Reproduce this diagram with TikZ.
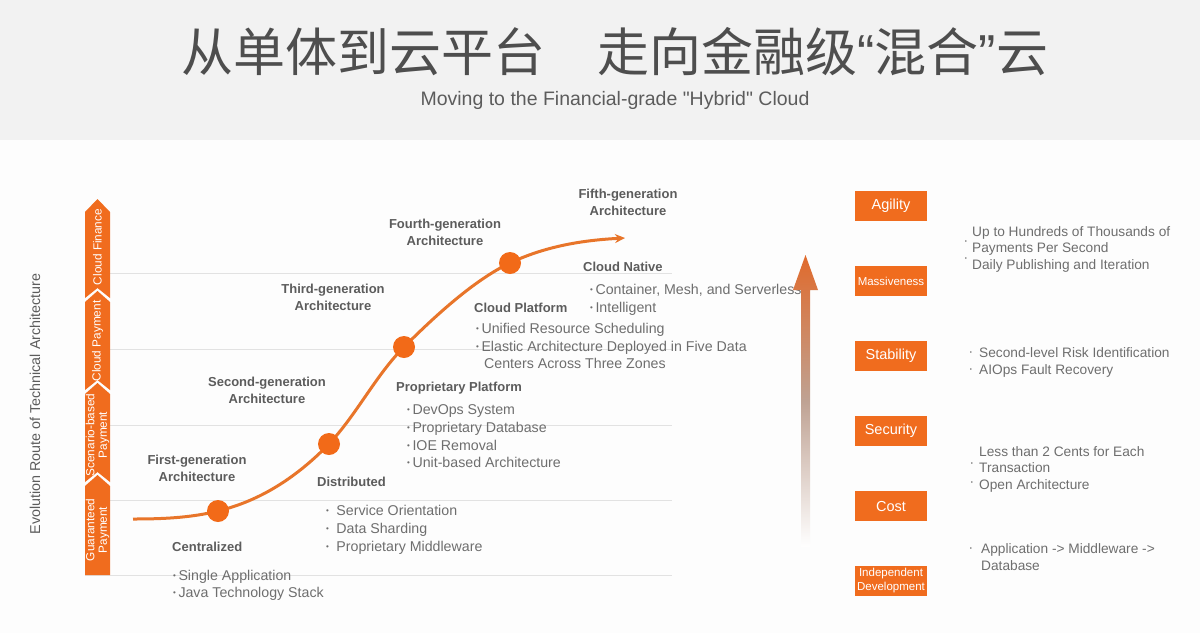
\documentclass[tikz,border=0pt]{standalone}
\usepackage{fontspec}
\setmainfont{Liberation Sans}
\newfontfamily\cjk{Noto Sans CJK SC}
\newfontfamily\latinq{Liberation Sans}
\usetikzlibrary{arrows.meta}
\definecolor{org}{HTML}{F06C1E}
\definecolor{curveorg}{HTML}{E8752A}
\definecolor{dotorg}{HTML}{F26A18}
\definecolor{txtd}{HTML}{5C5C5C}
\definecolor{txtl}{HTML}{6E6E6E}
\definecolor{gridc}{HTML}{E2E2E2}
\definecolor{headbg}{HTML}{F2F2F2}
\definecolor{bodybg}{HTML}{FDFDFD}
\definecolor{titlec}{HTML}{4E4E4E}
\definecolor{arrtop}{HTML}{E06A2C}
\definecolor{arrmid}{HTML}{BFA293}
\newcommand\bu{\raisebox{0.12em}{\fontsize{8}{8}\selectfont•}\hspace{2.5pt}}
\tikzset{
  gen/.style={font=\fontsize{13}{17}\selectfont\bfseries, text=txtd, align=center, anchor=base, inner sep=0pt},
  stage/.style={font=\fontsize{13}{17}\selectfont\bfseries, text=txtd, anchor=base west, inner sep=0pt},
  item/.style={font=\fontsize{14.2}{17.5}\selectfont, text=txtl, anchor=base west, inner sep=0pt},
  ritem/.style={font=\fontsize{13.7}{17}\selectfont, text=txtl, anchor=base west, inner sep=0pt},
  rbul/.style={font=\fontsize{6}{6}\selectfont, text=txtl, inner sep=0pt},
  qbox/.style={fill=org, minimum width=72pt, minimum height=30pt, inner sep=0pt, text=white, font=\fontsize{14.5}{16}\selectfont},
  sbox/.style={qbox, font=\fontsize{11.5}{14}\selectfont, align=center},
  seg/.style={fill=org, draw=none},
  segtxt/.style={rotate=90, text=white, font=\fontsize{11.8}{12.5}\selectfont, align=center, inner sep=0pt},
  grid/.style={draw=gridc, line width=1pt},
  curve/.style={draw=curveorg, line width=3pt},
  dotn/.style={circle, fill=dotorg, minimum size=22pt, inner sep=0pt},
}
\begin{document}
\begin{tikzpicture}[x=1pt,y=-1pt]
\useasboundingbox (0,0) rectangle (1200,633);
\fill[bodybg] (0,0) rectangle (1200,633);
\fill[headbg] (0,0) rectangle (1200,140);

% title
\node[font=\cjk\fontsize{52}{58}\selectfont, text=titlec, inner sep=0pt] (title) at (615,52) {从单体到云平台\hspace{1em}走向金融级{\latinq “}混合{\latinq ”}云};
\node[font=\latinq\fontsize{19.5}{22}\selectfont, text=txtd, inner sep=0pt] (subtitle) at (615,100) {Moving to the Financial-grade "Hybrid" Cloud};

% side label
\node[rotate=90, font=\fontsize{14.3}{16}\selectfont, text=txtd, inner sep=0pt] (route) at (35,404) {Evolution Route of Technical Architecture};

% grid lines
\draw[grid] (110,273) -- (672,273);
\draw[grid] (110,349) -- (672,349);
\draw[grid] (110,425) -- (672,425);
\draw[grid] (110,500) -- (672,500);
\draw[grid] (85,575) -- (672,575);

% left bar
\fill[seg] (85,212) -- (97.5,199) -- (110,212) -- (110,298) -- (97.5,288) -- (85,298) -- cycle;
\fill[seg] (85,302) -- (97.5,291) -- (110,302) -- (110,390) -- (97.5,380) -- (85,390) -- cycle;
\fill[seg] (85,394) -- (97.5,383) -- (110,394) -- (110,482) -- (97.5,472) -- (85,482) -- cycle;
\fill[seg] (85,486) -- (97.5,475) -- (110,486) -- (110,575) -- (85,575) -- cycle;
\node[segtxt] (s1) at (97.5,247) {Cloud Finance};
\node[segtxt] (s2) at (97.5,341) {Cloud Payment};
\node[segtxt] (s3) at (97.5,435) {Scenario-based\\Payment};
\node[segtxt] (s4) at (97.5,530) {Guaranteed\\Payment};

% generation labels (anchor = baseline of the last line)
\node[gen] (g1) at (197,481) {First-generation\\Architecture};
\node[gen] (g2) at (267,403) {Second-generation\\Architecture};
\node[gen] (g3) at (333,310) {Third-generation\\Architecture};
\node[gen] (g4) at (445,245) {Fourth-generation\\Architecture};
\node[gen] (g5) at (628,215) {Fifth-generation\\Architecture};

% stage labels
\node[stage] (st1) at (172,551) {Centralized};
\node[stage] (st2) at (317,486) {Distributed};
\node[stage] (st3) at (396,391) {Proprietary Platform};
\node[stage] (st4) at (474,312) {Cloud Platform};
\node[stage] (st5) at (583,271) {Cloud Native};

% items
\node[item] (i11) at (173,580) {\bu Single Application};
\node[item] (i12) at (173,597) {\bu Java Technology Stack};
\node[item] (i21) at (326,515) {\bu\hspace{1pt} Service Orientation};
\node[item] (i22) at (326,533) {\bu\hspace{1pt} Data Sharding};
\node[item] (i23) at (326,551) {\bu\hspace{1pt} Proprietary Middleware};
\node[item] (i31) at (407,414) {\bu DevOps System};
\node[item] (i32) at (407,432) {\bu Proprietary Database};
\node[item] (i33) at (407,450) {\bu IOE Removal};
\node[item] (i34) at (407,467) {\bu Unit-based Architecture};
\node[item] (i41) at (476,333) {\bu Unified Resource Scheduling};
\node[item] (i42) at (476,351) {\bu Elastic Architecture Deployed in Five Data};
\node[item] (i43) at (484,368) {Centers Across Three Zones};
\node[item] (i51) at (590,294) {\bu Container, Mesh, and Serverless};
\node[item] (i52) at (590,312) {\bu Intelligent};

% curve
\coordinate (cs) at (133,519);
\coordinate (c1) at (218,511);
\coordinate (c2) at (329,444);
\coordinate (c3) at (404,347);
\coordinate (c4) at (510,263);
\coordinate (ce) at (625,238);
\draw[curve, -{Stealth[length=10pt,width=9pt]}] (cs) .. controls (161,519) and (190,518) .. (c1)
  .. controls (255,502) and (292,482) .. (c2)
  .. controls (357,414) and (376,375) .. (c3)
  .. controls (434,317) and (474,280) .. (c4)
  .. controls (548,245) and (587,240) .. (ce);
\node[dotn] (d1) at (c1) {};
\node[dotn] (d2) at (c2) {};
\node[dotn] (d3) at (c3) {};
\node[dotn] (d4) at (c4) {};

% vertical gradient arrow
\shade[top color=arrtop, bottom color=white, middle color=arrmid]
  (801,547) -- (801,290) -- (793,290) -- (805.5,255) -- (818,290) -- (810,290) -- (810,547) -- cycle;

% quality boxes
\node[qbox] (agility) at (891,206) {Agility};
\node[sbox] (mass) at (891,281) {Massiveness};
\node[qbox] (stab) at (891,356) {Stability};
\node[qbox] (secu) at (891,431) {Security};
\node[qbox] (cost) at (891,506) {Cost};
\node[sbox] (indep) at (891,581) {Independent\\Development};

% right texts
\node[ritem] (r11) at (972,236) {Up to Hundreds of Thousands of};
\node[ritem] (r12) at (972,252) {Payments Per Second};
\node[ritem] (r13) at (972,269) {Daily Publishing and Iteration};
\node[rbul] (b11) at (966,242) {•};
\node[rbul] (b12) at (966,259) {•};
\node[ritem] (r21) at (979,357) {Second-level Risk Identification};
\node[ritem] (r22) at (979,374) {AIOps Fault Recovery};
\node[rbul] (b21) at (971,353) {•};
\node[rbul] (b22) at (971,370) {•};
\node[ritem] (r31) at (979,456) {Less than 2 Cents for Each};
\node[ritem] (r32) at (979,472) {Transaction};
\node[ritem] (r33) at (979,489) {Open Architecture};
\node[rbul] (b31) at (972,464) {•};
\node[rbul] (b32) at (972,483) {•};
\node[ritem] (r41) at (981,553) {Application -> Middleware ->};
\node[ritem] (r42) at (981,570) {Database};
\node[rbul] (b41) at (971,549) {•};
\end{tikzpicture}
\end{document}
